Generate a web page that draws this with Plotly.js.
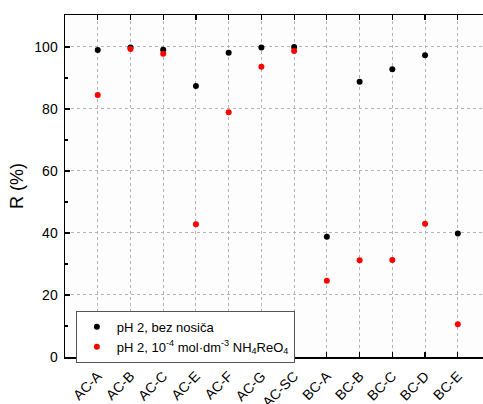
<!DOCTYPE html>
<html>
<head>
<meta charset="utf-8">
<script src="https://cdn.plot.ly/plotly-3.0.1.min.js"></script>
<style>html,body{margin:0;padding:0;background:#fff;}#chart{width:483px;height:404px;}</style>
</head>
<body>
<div id="chart"></div>
<script>
const categories = ["AC-A","AC-B","AC-C","AC-E","AC-F","AC-G","AC-SC","BC-A","BC-B","BC-C","BC-D","BC-E"];
const bezNosica = [99.0, 99.8, 99.1, 87.4, 98.1, 99.8, 100.0, 38.8, 88.8, 92.8, 97.3, 39.8];
const saReO4 = [84.5, 99.3, 97.8, 42.8, 78.9, 93.6, 98.7, 24.6, 31.2, 31.3, 43.0, 10.6];
const seriesNames = ["pH 2, bez nosiča", "pH 2, 10<sup>-4</sup> mol·dm<sup>-3</sup> NH<sub>4</sub>ReO<sub>4</sub>"];
const yTicks = [0, 20, 40, 60, 80, 100];

const idx = categories.map((c, i) => i);
const font = {family: "Liberation Sans, Arial, sans-serif", color: "#000"};

const traces = [
  {x: idx, y: bezNosica, type: "scatter", mode: "markers", name: seriesNames[0],
   marker: {color: "#000000", size: 6}},
  {x: idx, y: saReO4, type: "scatter", mode: "markers", name: seriesNames[1],
   marker: {color: "#ff0000", size: 6}}
];

const layout = {
  width: 483, height: 404,
  margin: {l: 65, r: 0, t: 15, b: 47},
  paper_bgcolor: "#ffffff",
  plot_bgcolor: "#fdfdfd",
  font: Object.assign({size: 14}, font),
  showlegend: true,
  legend: {x: 0.026, y: 0.135, xanchor: "left", yanchor: "top",
           bgcolor: "#ffffff", bordercolor: "#555555", borderwidth: 1,
           font: Object.assign({size: 13}, font), itemwidth: 20,
           tracegroupgap: 0},
  xaxis: {
    range: [-1, 11.77], tickmode: "array", tickvals: idx, ticktext: categories,
    tickangle: -45, ticks: "inside", ticklen: 5, tickcolor: "#000", tickwidth: 1.2,
    ticklabelstandoff: 4,
    showline: true, linecolor: "#000", linewidth: 1.5,
    showgrid: true, gridcolor: "#b5b5b5", griddash: "3px,3px", gridwidth: 1,
    zeroline: false, tickfont: Object.assign({size: 14}, font)
  },
  xaxis2: {
    overlaying: "x", side: "top", range: [-1, 11.77], tickmode: "array", tickvals: idx,
    showticklabels: false, ticks: "inside", ticklen: 5, tickcolor: "#000", tickwidth: 1.2,
    showline: true, linecolor: "#000", linewidth: 1.5, showgrid: false, zeroline: false
  },
  yaxis: {
    range: [0, 110.3], tickmode: "array", tickvals: yTicks,
    ticks: "inside", ticklen: 5, tickcolor: "#000", tickwidth: 1.2,
    ticklabelstandoff: 3,
    minor: {tickmode: "array", tickvals: [10, 30, 50, 70, 90, 110], ticks: "inside", ticklen: 3, tickcolor: "#000", showgrid: false},
    showline: true, linecolor: "#000", linewidth: 1.5,
    showgrid: true, gridcolor: "#b5b5b5", griddash: "3px,3px", gridwidth: 1,
    zeroline: false, tickfont: Object.assign({size: 14}, font),
    title: {text: "R (%)", font: Object.assign({size: 18}, font), standoff: 6}
  }
};

traces.push({x: [0], y: [0], xaxis: "x2", type: "scatter", mode: "markers",
  marker: {opacity: 0}, showlegend: false, hoverinfo: "skip"});

Plotly.newPlot("chart", traces, layout, {staticPlot: true, displayModeBar: false});
</script>
</body>
</html>
